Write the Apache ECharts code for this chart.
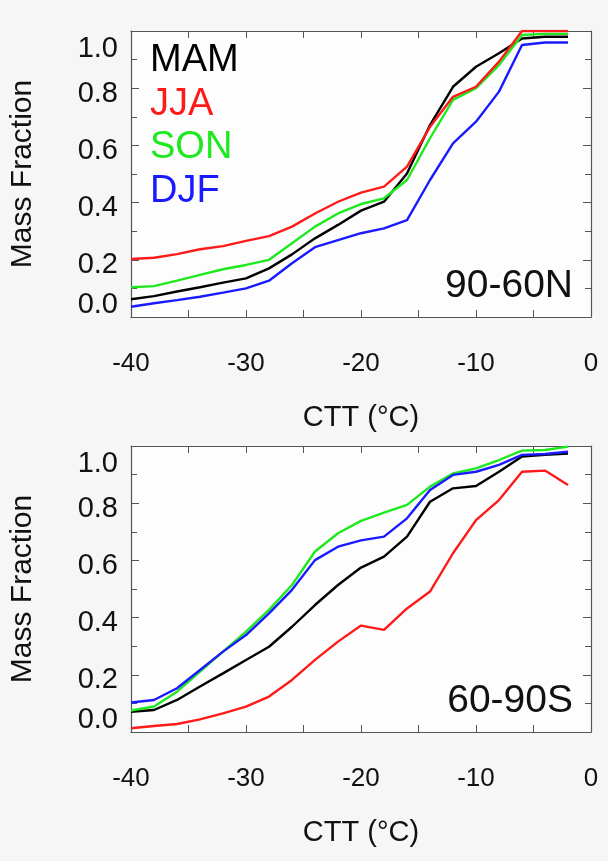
<!DOCTYPE html>
<html>
<head>
<meta charset="utf-8">
<script src="https://cdn.jsdelivr.net/npm/echarts@6/dist/echarts.min.js"></script>
<style>
  html, body { margin: 0; padding: 0; background: #f6f6f6; }
  #chart { width: 608px; height: 861px; }
</style>
</head>
<body>
<div id="chart"></div>
<script>
// Cloud-top temperature bins (°C)
const ctt = [-40, -38, -36, -34, -32, -30, -28, -26, -24, -22,
             -20, -18, -16, -14, -12, -10, -8, -6, -4, -2];

const seasons = ['MAM', 'JJA', 'SON', 'DJF'];
const seasonColors = ['#000000', '#ff1a1a', '#1ee81e', '#1a1aff'];

// 90-60N cumulative mass fraction
const northMAM = [0.062, 0.073, 0.089, 0.104, 0.120, 0.135, 0.170, 0.219, 0.275, 0.322,
                  0.372, 0.403, 0.502, 0.671, 0.805, 0.875, 0.922, 0.974, 0.980, 0.980];
const northJJA = [0.203, 0.207, 0.220, 0.237, 0.248, 0.266, 0.283, 0.316, 0.362, 0.403,
                  0.435, 0.456, 0.526, 0.665, 0.770, 0.805, 0.893, 1.000, 1.000, 1.000];
const northSON = [0.104, 0.108, 0.127, 0.147, 0.167, 0.182, 0.200, 0.258, 0.316, 0.362,
                  0.395, 0.415, 0.479, 0.625, 0.759, 0.800, 0.881, 0.986, 0.990, 0.990];
const northDJF = [0.036, 0.048, 0.059, 0.071, 0.085, 0.100, 0.127, 0.188, 0.244, 0.269,
                  0.293, 0.310, 0.339, 0.479, 0.607, 0.683, 0.788, 0.951, 0.960, 0.960];

// 60-90S cumulative mass fraction
const southMAM = [0.071, 0.077, 0.112, 0.159, 0.205, 0.252, 0.298, 0.368, 0.444, 0.514,
                  0.575, 0.613, 0.683, 0.805, 0.852, 0.860, 0.910, 0.963, 0.969, 0.974];
const southJJA = [0.013, 0.021, 0.028, 0.044, 0.065, 0.089, 0.124, 0.182, 0.252, 0.316,
                  0.372, 0.357, 0.432, 0.491, 0.625, 0.741, 0.811, 0.910, 0.914, 0.864];
const southSON = [0.075, 0.089, 0.141, 0.211, 0.281, 0.351, 0.427, 0.514, 0.631, 0.695,
                  0.738, 0.767, 0.794, 0.858, 0.904, 0.922, 0.951, 0.984, 0.986, 0.998];
const southDJF = [0.103, 0.112, 0.153, 0.217, 0.281, 0.339, 0.415, 0.497, 0.601, 0.648,
                  0.670, 0.683, 0.747, 0.846, 0.899, 0.910, 0.934, 0.969, 0.972, 0.980];

const xTicks = [-40, -30, -20, -10, 0];
const yTicks = [0.0, 0.2, 0.4, 0.6, 0.8, 1.0];

const regionNames = ['90-60N', '60-90S'];
const xTitle = 'CTT (°C)';
const yTitle = 'Mass Fraction';

const FONT = '"Liberation Sans", Arial, Helvetica, sans-serif';
const frameColor = '#555';
const textColor = '#111';

const panels = [
  { top: 31,  values: [northMAM, northJJA, northSON, northDJF] },
  { top: 446, values: [southMAM, southJJA, southSON, southDJF] }
];

// y tick labels sit a little below their ticks; the end labels are pulled inside the frame
const yLabelRich = {
  hi:  { fontFamily: FONT, fontSize: 29, color: textColor, padding: [36, 0, 0, 0] },
  mid: { fontFamily: FONT, fontSize: 29, color: textColor, padding: [11, 0, 0, 0] },
  lo:  { fontFamily: FONT, fontSize: 29, color: textColor, padding: [0, 0, 24, 0] }
};
function yLabel(v) {
  const s = v.toFixed(1);
  if (v > 0.99) return '{hi|' + s + '}';
  if (v < 0.01) return '{lo|' + s + '}';
  return '{mid|' + s + '}';
}

const grids = [], xAxes = [], yAxes = [], series = [];

panels.forEach((p, i) => {
  grids.push({ left: 130, top: p.top, width: 461, height: 286,
               show: true, backgroundColor: '#fdfdfd', borderWidth: 0 });

  const xBase = {
    gridIndex: i, type: 'value', min: xTicks[0], max: xTicks[xTicks.length - 1],
    interval: 10,
    axisLine: { show: true, onZero: false, lineStyle: { color: frameColor, width: 1.2 } },
    axisTick: { show: true, inside: true, length: 7, lineStyle: { color: frameColor } },
    minorTick: { show: true, splitNumber: 2, length: 7, lineStyle: { color: frameColor } },
    splitLine: { show: false }
  };
  xAxes.push(Object.assign({}, xBase, {
    position: 'bottom',
    name: xTitle, nameLocation: 'middle', nameGap: 86,
    nameTextStyle: { fontFamily: FONT, fontSize: 29, color: textColor },
    axisLabel: { show: true, margin: 34, fontFamily: FONT, fontSize: 26, color: textColor,
                 formatter: v => String(v) }
  }));
  xAxes.push(Object.assign({}, xBase, { position: 'top', axisLabel: { show: false } }));

  const yBase = {
    gridIndex: i, type: 'value', min: yTicks[0], max: yTicks[yTicks.length - 1],
    interval: 0.2,
    axisLine: { show: true, onZero: false, lineStyle: { color: frameColor, width: 1.2 } },
    axisTick: { show: true, inside: true, length: 8, lineStyle: { color: frameColor } },
    minorTick: { show: true, splitNumber: 2, length: 6, lineStyle: { color: frameColor } },
    splitLine: { show: false }
  };
  yAxes.push(Object.assign({}, yBase, {
    position: 'left',
    name: yTitle, nameLocation: 'middle', nameGap: 93, nameRotate: 90,
    nameTextStyle: { fontFamily: FONT, fontSize: 30, color: textColor },
    axisLabel: { show: true, margin: 13, formatter: yLabel, rich: yLabelRich }
  }));
  yAxes.push(Object.assign({}, yBase, { position: 'right', axisLabel: { show: false } }));

  p.values.forEach((vals, s) => {
    series.push({
      name: seasons[s], type: 'line',
      xAxisIndex: i * 2, yAxisIndex: i * 2,
      data: ctt.map((t, k) => [t, vals[k]]),
      showSymbol: false, smooth: false,
      lineStyle: { color: seasonColors[s], width: 2.4 },
      itemStyle: { color: seasonColors[s] },
      z: 3 + (s === 1 ? 1 : 0)
    });
  });
});

// season key (top panel) and region tags
const graphic = seasons.map((name, s) => ({
  type: 'text', left: 150, top: 42 + s * 43.5,
  style: { text: name, font: '38px ' + FONT, fill: seasonColors[s] }
}));
graphic.push({ type: 'text', right: 35, top: 267,
  style: { text: regionNames[0], font: '39px ' + FONT, fill: textColor } });
graphic.push({ type: 'text', right: 35, top: 682,
  style: { text: regionNames[1], font: '39px ' + FONT, fill: textColor } });

const chart = echarts.init(document.getElementById('chart'), null, { renderer: 'canvas' });
chart.setOption({
  animation: false,
  backgroundColor: '#f6f6f6',
  grid: grids,
  xAxis: xAxes,
  yAxis: yAxes,
  series: series,
  graphic: graphic
});
</script>
</body>
</html>
